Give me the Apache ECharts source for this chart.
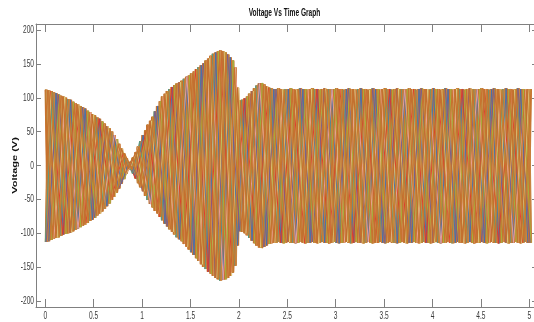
<!DOCTYPE html>
<html>
<head>
<meta charset="utf-8">
<script src="https://cdn.jsdelivr.net/npm/echarts@6/dist/echarts.min.js"></script>
<style>
html,body{margin:0;padding:0;background:#fff;}
#chart{width:534px;height:322px;}
</style>
</head>
<body>
<div id="chart"></div>
<script>
// ---- data ----
const chartTitle = 'Voltage Vs Time Graph';
const yAxisName = 'Voltage (V)';
const xTickLabels = [0, 0.5, 1, 1.5, 2, 2.5, 3, 3.5, 4, 4.5, 5];
const yTickLabels = [-200, -150, -100, -50, 0, 50, 100, 150, 200];

// sample instants (s), one per half-cycle of the visible oscillation
const times = [
  0,0.025,0.05,0.075,0.1,0.125,0.15,0.175,
  0.2,0.225,0.25,0.275,0.3,0.325,0.35,0.375,
  0.4,0.425,0.45,0.475,0.5,0.525,0.55,0.575,
  0.6,0.625,0.65,0.675,0.7,0.725,0.75,0.775,
  0.8,0.825,0.85,0.875,0.9,0.925,0.95,0.975,
  1,1.025,1.05,1.075,1.1,1.125,1.15,1.175,
  1.2,1.225,1.25,1.275,1.3,1.325,1.35,1.375,
  1.4,1.425,1.45,1.475,1.5,1.525,1.55,1.575,
  1.6,1.625,1.65,1.675,1.7,1.725,1.75,1.775,
  1.8,1.825,1.85,1.875,1.9,1.925,1.95,1.975,
  2,2.025,2.05,2.075,2.1,2.125,2.15,2.175,
  2.2,2.225,2.25,2.275,2.3,2.325,2.35,2.375,
  2.4,2.425,2.45,2.475,2.5,2.525,2.55,2.575,
  2.6,2.625,2.65,2.675,2.7,2.725,2.75,2.775,
  2.8,2.825,2.85,2.875,2.9,2.925,2.95,2.975,
  3,3.025,3.05,3.075,3.1,3.125,3.15,3.175,
  3.2,3.225,3.25,3.275,3.3,3.325,3.35,3.375,
  3.4,3.425,3.45,3.475,3.5,3.525,3.55,3.575,
  3.6,3.625,3.65,3.675,3.7,3.725,3.75,3.775,
  3.8,3.825,3.85,3.875,3.9,3.925,3.95,3.975,
  4,4.025,4.05,4.075,4.1,4.125,4.15,4.175,
  4.2,4.225,4.25,4.275,4.3,4.325,4.35,4.375,
  4.4,4.425,4.45,4.475,4.5,4.525,4.55,4.575,
  4.6,4.625,4.65,4.675,4.7,4.725,4.75,4.775,
  4.8,4.825,4.85,4.875,4.9,4.925,4.95,4.975,
  5];

// positive peak voltage at each instant (V)
const upperPeak = [
  112,111,110,108,107,105,103,102,
  100,98,97,94,92,90,88,86,
  84,81,79,76,74,71,69,65,
  62,58,55,50,45,39,32,25,
  18,11,5,6,12,20,28,36,
  45,52,60,66,72,80,88,95,
  102,106,110,113,116,119,121,123,
  125,128,131,133,136,139,142,145,
  148,151,155,158,162,165,167,169,
  170,169,167,164,160,155,145,115,
  96,97,99,102,106,110,114,118,
  121,122,120,117,115,114,113,113,
  114,113,112,113,113,114,113,112,
  113,114,113,113,112,113,114,113,
  113,112,113,114,113,113,112,113,
  114,113,113,112,113,114,113,113,
  112,113,114,113,113,112,113,114,
  113,113,112,113,114,113,113,112,
  113,114,113,113,112,113,114,113,
  113,112,113,114,113,113,112,113,
  114,113,113,112,113,114,113,113,
  112,113,114,113,113,112,113,114,
  113,113,112,113,114,113,113,112,
  113,114,113,113,112,113,114,113,
  113,112,113,114,113,113,112,113,
  113];

// negative peak voltage at each instant (V)
const lowerPeak = [
  -113,-112,-110,-108,-107,-106,-104,-102,
  -101,-100,-99,-97,-95,-93,-91,-89,
  -87,-85,-82,-80,-77,-74,-71,-68,
  -64,-60,-56,-51,-46,-40,-34,-27,
  -20,-12,-5,-6,-12,-19,-26,-32,
  -38,-45,-51,-57,-62,-67,-71,-76,
  -81,-86,-90,-94,-98,-102,-106,-109,
  -112,-116,-120,-124,-128,-132,-137,-141,
  -146,-150,-153,-157,-160,-163,-166,-168,
  -170,-169,-168,-166,-163,-158,-148,-118,
  -97,-98,-100,-103,-107,-111,-115,-118,
  -121,-122,-120,-118,-116,-115,-114,-114,
  -113,-114,-115,-114,-113,-114,-114,-115,
  -114,-113,-114,-115,-114,-114,-113,-114,
  -115,-114,-113,-114,-114,-115,-114,-113,
  -114,-115,-114,-114,-113,-114,-115,-114,
  -113,-114,-114,-115,-114,-113,-114,-115,
  -114,-114,-113,-114,-115,-114,-113,-114,
  -114,-115,-114,-113,-114,-115,-114,-114,
  -113,-114,-115,-114,-113,-114,-114,-115,
  -114,-113,-114,-115,-114,-114,-113,-114,
  -115,-114,-113,-114,-114,-115,-114,-113,
  -114,-115,-114,-114,-113,-114,-115,-114,
  -113,-114,-114,-115,-114,-113,-114,-115,
  -114,-114,-113,-114,-115,-114,-113,-114,
  -114];

// the individual phase traces: time lag (s), polarity, half-cycle stride and first sample
const phaseLag   = [0.000,0.002,0.004,0.006,0.008,0.010,0.012,0.014,0.016,0.018,0.020,0.022,
                    0.004,0.011,0.017,0.020,0.006,0.000,0.009,0.013,0.015,0.007,
                    0.003,0.012,0.018];
const phaseSign  = [1,-1,1,-1,1,-1,1,-1,1,-1,1,-1,
                    1,1,-1,-1,1,-1,-1,1,1,1,
                    1,-1,1];
const phaseStep  = [1,1,1,1,1,1,1,1,1,1,1,1,
                    3,3,3,3,5,3,5,5,3,3,
                    3,3,3];
const phaseStart = [0,0,0,0,0,0,0,0,0,0,0,0,
                    0,1,2,1,2,0,0,3,2,0,
                    0,1,2];

// ---- styles ----
const OR = '#c7732f';
const phaseColors = [OR,'#cd8a44',OR,'#bd6a2b',OR,'#c9803c',OR,'#d09652',OR,'#c0702e',OR,'#c88440',
  '#79ab33','#3f6fb6','#9fb73c','#e4da8e','#e0352b','#4e9c8a','#7b5a8e','#f0a39c','#b5c24a','#d8b27c',
  OR,'#c27030',OR];
const phaseWidth = [1.5,1.5,1.5,1.5,1.5,1.5,1.5,1.5,1.5,1.5,1.5,1.5,
  0.9,0.9,0.9,0.9,0.9,0.9,0.9,0.9,0.9,0.9,
  1.2,1.2,1.2];
const FONT = "'Liberation Sans', Arial, sans-serif";
const AXIS_GREY = '#808080';
const SQUEEZE = 0.6;

const series = phaseLag.map((lag, k) => {
  const data = [];
  times.forEach((t, i) => {
    if (i < phaseStart[k] || (i - phaseStart[k]) % phaseStep[k] !== 0) return;
    const up = ((i % 2 === 0) ? 1 : -1) * phaseSign[k] > 0;
    data.push([t + lag, up ? upperPeak[i] : lowerPeak[i]]);
  });
  return {
    type: 'line', data, symbol: 'none', showSymbol: false, silent: true,
    sampling: null, clip: true,
    lineStyle: { color: phaseColors[k], width: phaseWidth[k] }
  };
});

const chart = echarts.init(document.getElementById('chart'));
const tickStyle = { color: AXIS_GREY, width: 1 };
const X_MIN = -0.096, X_MAX = 5.08, Y_MIN = -209, Y_MAX = 209;

chart.setOption({
  animation: false,
  backgroundColor: '#fff',
  grid: { left: 36, top: 24, right: -3, bottom: 15, outerBoundsMode: 'none', containLabel: false },
  xAxis: [
    {
      type: 'value', min: X_MIN, max: X_MAX, position: 'bottom',
      axisLine: { onZero: false, lineStyle: { color: AXIS_GREY, width: 1 } },
      axisTick: { inside: true, length: 8, customValues: xTickLabels, lineStyle: tickStyle },
      axisLabel: { show: false },
      splitLine: { show: false }
    },
    {
      type: 'value', min: X_MIN, max: X_MAX, position: 'top',
      axisLine: { onZero: false, lineStyle: { color: AXIS_GREY, width: 1 } },
      axisTick: { inside: true, length: 8, customValues: xTickLabels, lineStyle: tickStyle },
      axisLabel: { show: false },
      splitLine: { show: false }
    }
  ],
  yAxis: [
    {
      type: 'value', min: Y_MIN, max: Y_MAX, position: 'left',
      axisLine: { onZero: false, lineStyle: { color: AXIS_GREY, width: 1 } },
      axisTick: { inside: true, length: 5, customValues: yTickLabels, lineStyle: tickStyle },
      axisLabel: { show: false },
      splitLine: { show: false }
    },
    {
      type: 'value', min: Y_MIN, max: Y_MAX, position: 'right',
      axisLine: { onZero: false, lineStyle: { color: AXIS_GREY, width: 1 } },
      axisTick: { inside: true, length: 5, customValues: yTickLabels, lineStyle: tickStyle },
      axisLabel: { show: false },
      splitLine: { show: false }
    }
  ],
  series
});

// Text in the reference is horizontally condensed; draw it as real text, placed
// through the chart's own axis scales, with a horizontal squeeze.
function txt(text, x, y, opt) {
  return Object.assign({
    type: 'text', x, y, scaleX: SQUEEZE, silent: true, z: 100,
    style: {
      text, fill: opt.color || '#3a3a3a',
      fontFamily: FONT, fontSize: opt.size || 11, fontWeight: opt.weight || 'normal',
      align: opt.align || 'center', textAlign: opt.align || 'center',
      verticalAlign: 'middle', textVerticalAlign: 'middle'
    }
  }, opt.extra || {});
}
const gfx = [];
const yBottomPx = chart.convertToPixel({ yAxisIndex: 0 }, Y_MIN);
const xLeftPx = chart.convertToPixel({ xAxisIndex: 0 }, X_MIN);
xTickLabels.forEach(v => {
  const px = chart.convertToPixel({ xAxisIndex: 0 }, v);
  gfx.push(txt(String(v), px, yBottomPx + 9, {}));
});
yTickLabels.forEach(v => {
  const py = chart.convertToPixel({ yAxisIndex: 0 }, v);
  gfx.push(txt(String(v), xLeftPx - 2, py, { align: 'right' }));
});
const gridMid = (chart.convertToPixel({ xAxisIndex: 0 }, X_MIN) + chart.convertToPixel({ xAxisIndex: 0 }, X_MAX)) / 2;
gfx.push(txt(chartTitle, gridMid - 2, 13, { weight: 'bold', color: '#111' }));
const yMid = chart.convertToPixel({ yAxisIndex: 0 }, 0);
gfx.push(txt(yAxisName, 15, yMid, { weight: 'bold', color: '#111',
  extra: { rotation: Math.PI / 2, scaleX: 1, scaleY: SQUEEZE } }));
chart.setOption({ graphic: { elements: gfx } });
</script>
</body>
</html>
